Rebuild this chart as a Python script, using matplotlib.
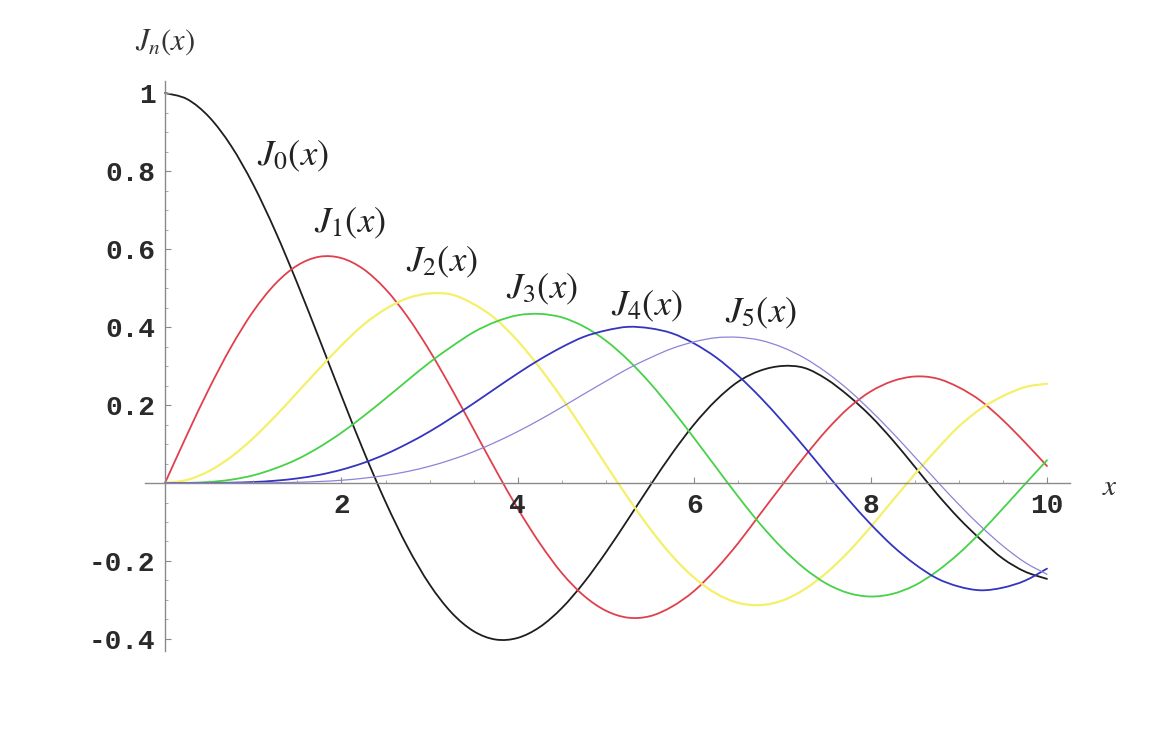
import numpy as np
import matplotlib
matplotlib.use('Agg')
import matplotlib.pyplot as plt
from matplotlib.path import Path
from matplotlib.patches import PathPatch
from matplotlib.ticker import MultipleLocator

# === Данные (шаг 0.25) ===
x = np.linspace(0, 10, 41)

j0 = [1.0, 0.9844, 0.9385, 0.8642, 0.7652, 0.6459, 0.5118, 0.3690, 0.2239, 0.0827,
      -0.0484, -0.1641, -0.2601, -0.3328, -0.3801, -0.4014, -0.3971, -0.3692, -0.3205, -0.2551,
      -0.1776, -0.0931, -0.0068, 0.0760, 0.1506, 0.2126, 0.2601, 0.2882, 0.3001, 0.2951,
      0.2663, 0.2235, 0.1717, 0.1101, 0.0419, -0.0272, -0.0903, -0.1453, -0.1939, -0.2271, -0.2459]
j1 = [0.0, 0.1240, 0.2423, 0.3492, 0.4401, 0.5106, 0.5579, 0.5802, 0.5767, 0.5484,
      0.4971, 0.4260, 0.3391, 0.2411, 0.1374, 0.0332, -0.0660, -0.1548, -0.2311, -0.2892,
      -0.3276, -0.3453, -0.3414, -0.3167, -0.2767, -0.2203, -0.1538, -0.0789, -0.0047, 0.0676,
      0.1352, 0.1924, 0.2346, 0.2613, 0.2731, 0.2681, 0.2453, 0.2105, 0.1613, 0.1042, 0.0435]
j2 = [0.0, 0.0078, 0.0306, 0.0671, 0.1149, 0.1711, 0.2321, 0.2935, 0.3528, 0.4058,
      0.4461, 0.4739, 0.4861, 0.4832, 0.4586, 0.4204, 0.3641, 0.2952, 0.2178, 0.1334,
      0.0466, -0.0380, -0.1173, -0.1870, -0.2429, -0.2836, -0.3074, -0.3131, -0.3014, -0.2727,
      -0.2303, -0.1764, -0.1130, -0.0449, 0.0223, 0.0860, 0.1448, 0.1906, 0.2228, 0.2459, 0.2546]
j3 = [0.0, 0.0003, 0.0026, 0.0085, 0.0196, 0.0375, 0.0610, 0.0920, 0.1289, 0.1713,
      0.2166, 0.2634, 0.3091, 0.3500, 0.3868, 0.4135, 0.4302, 0.4336, 0.4247, 0.4011,
      0.3648, 0.3155, 0.2561, 0.1879, 0.1148, 0.0395, -0.0353, -0.1057, -0.1676, -0.2190,
      -0.2581, -0.2823, -0.2911, -0.2842, -0.2626, -0.2268, -0.1809, -0.1261, -0.0653, -0.0031, 0.0584]
j4 = [0.0, 0.0000, 0.0002, 0.0008, 0.0025, 0.0059, 0.0118, 0.0209, 0.0340, 0.0515,
      0.0738, 0.1011, 0.1320, 0.1672, 0.2044, 0.2430, 0.2811, 0.3168, 0.3484, 0.3750,
      0.3912, 0.4004, 0.3967, 0.3838, 0.3576, 0.3217, 0.2748, 0.2196, 0.1578, 0.0921,
      0.0238, -0.0429, -0.1054, -0.1614, -0.2077, -0.2443, -0.2655, -0.2751, -0.2683, -0.2505, -0.2196]
j5 = [0.0, 0.0000, 0.0000, 0.0001, 0.0002, 0.0007, 0.0018, 0.0038, 0.0070, 0.0122,
      0.0195, 0.0296, 0.0430, 0.0600, 0.0804, 0.1048, 0.1321, 0.1623, 0.1947, 0.2282,
      0.2611, 0.2933, 0.3209, 0.3451, 0.3621, 0.3726, 0.3736, 0.3660, 0.3479, 0.3205,
      0.2835, 0.2386, 0.1858, 0.1285, 0.0671, 0.0054, -0.0550, -0.1111, -0.1613, -0.2035, -0.2341]

labels = [r'$J_0(x)$', r'$J_1(x)$', r'$J_2(x)$', r'$J_3(x)$', r'$J_4(x)$', r'$J_5(x)$']
label_pos = [(1.45, 0.841), (2.10, 0.667), (3.14, 0.567), (4.27, 0.50), (5.46, 0.456), (6.76, 0.436)]

x_ticks = [2, 4, 6, 8, 10]
x_ticklabels = ['2', '4', '6', '8', '10']
y_ticks = [-0.4, -0.2, 0.2, 0.4, 0.6, 0.8, 1.0]
y_ticklabels = ['-0.4', '-0.2', '0.2', '0.4', '0.6', '0.8', '1']

colors = ['#1e1e1e', '#e0404c', '#f4f06a', '#46d246', '#3434c0', '#8c84d8']
widths = [1.3, 1.3, 1.6, 1.3, 1.3, 0.9]


def smooth_path(xs, ys):
    # кривая Безье через точки (Catmull-Rom), без новых точек данных
    p = np.column_stack([xs, ys])
    verts = [p[0]]
    codes = [Path.MOVETO]
    n = len(p)
    for i in range(n - 1):
        a = p[i - 1] if i > 0 else p[i]
        d = p[i + 2] if i + 2 < n else p[i + 1]
        c1 = p[i] + (p[i + 1] - a) / 6.0
        c2 = p[i + 1] - (d - p[i]) / 6.0
        verts += [c1, c2, p[i + 1]]
        codes += [Path.CURVE4] * 3
    return Path(verts, codes)


plt.rcParams['mathtext.fontset'] = 'stix'

fig = plt.figure(figsize=(11.72, 7.34), dpi=100)
ax = fig.add_axes([0.1235, 0.1135, 0.7894, 0.7757])

for ys, c, w in zip([j0, j1, j2, j3, j4, j5], colors, widths):
    ax.add_patch(PathPatch(smooth_path(x, ys), facecolor='none', edgecolor=c,
                           linewidth=w, capstyle='round'))

for lab, (lx, ly) in zip(labels, label_pos):
    ax.text(lx, ly, lab, fontsize=26.5, ha='center', va='center', color='#222222')

ax.set_xlim(-0.23, 10.26)
ax.set_ylim(-0.43, 1.03)

# оси через ноль, как в Mathematica
ax.spines['left'].set_position(('data', 0))
ax.spines['bottom'].set_position(('data', 0))
ax.spines['top'].set_visible(False)
ax.spines['right'].set_visible(False)
for s in ['left', 'bottom']:
    ax.spines[s].set_color('#8a8a8a')
    ax.spines[s].set_linewidth(1.0)

ax.set_xticks(x_ticks)
ax.set_xticklabels(x_ticklabels)
ax.set_yticks(y_ticks)
ax.set_yticklabels(y_ticklabels)
ax.xaxis.set_minor_locator(MultipleLocator(0.5))
ax.yaxis.set_minor_locator(MultipleLocator(0.05))
ax.tick_params(which='major', direction='in', length=4, width=0.8, color='#8a8a8a',
               labelsize=20, labelcolor='#2a2a2a', pad=7)
ax.tick_params(which='minor', direction='in', length=2.5, width=0.6, color='#9a9a9a')
for t in ax.get_xticklabels() + ax.get_yticklabels():
    t.set_family('Liberation Mono')
    t.set_weight('bold')

ax.text(0.0, 1.13, r'$J_n(x)$', fontsize=22, ha='center', va='center',
        color='#333333', clip_on=False)
ax.text(10.71, -0.01, r'$x$', fontsize=21, ha='center', va='center',
        color='#333333', clip_on=False)

fig.savefig('out.png', dpi=100)
